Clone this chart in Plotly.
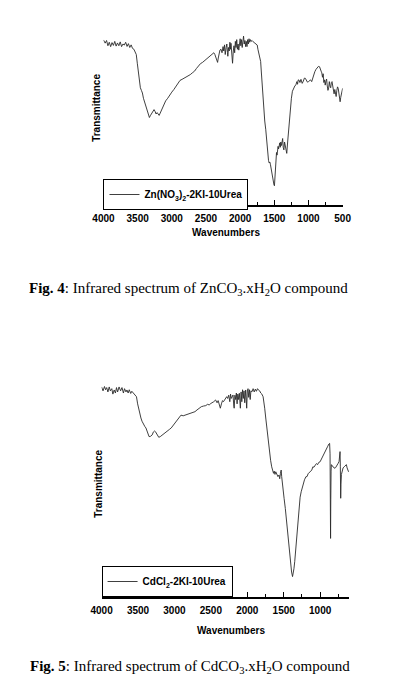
import plotly.graph_objects as go

# ---------------- data ----------------
zn_name = "Zn(NO<sub>3</sub>)<sub>2</sub>-2KI-10Urea"
cd_name = "CdCl<sub>2</sub>-2KI-10Urea"

zn_wn = [4000, 3975, 3955, 3935, 3915, 3895, 3875, 3855, 3835, 3815, 3795, 3775, 3755, 3735, 3715, 3695,
         3675, 3655, 3635, 3615, 3595, 3575, 3555, 3535, 3520, 3505, 3490, 3475, 3460, 3445, 3430, 3415,
         3400, 3385, 3370, 3355, 3340, 3328, 3315, 3300, 3290, 3275, 3260, 3245, 3230, 3215, 3200, 3185,
         3170, 3150, 3130, 3110, 3090, 3060, 3030, 3000, 2970, 2940, 2910, 2880, 2850, 2820, 2790, 2760,
         2730, 2700, 2667, 2640, 2610, 2580, 2550, 2520, 2490, 2460, 2430, 2400, 2385, 2370, 2355, 2340,
         2330, 2320, 2310, 2296, 2280, 2265, 2250, 2240, 2228, 2218, 2205, 2195, 2185, 2180, 2170, 2160,
         2150, 2140, 2134, 2125, 2115, 2111, 2100, 2090, 2080, 2070, 2060, 2050, 2040, 2030, 2020, 2010,
         2000, 1990, 1980, 1970, 1960, 1950, 1940, 1930, 1920, 1910, 1900, 1890, 1880, 1870, 1860, 1850,
         1840, 1825, 1810, 1790, 1770, 1750, 1740, 1725, 1710, 1700, 1690, 1680, 1671, 1655, 1640, 1625,
         1610, 1600, 1593, 1585, 1575, 1565, 1556, 1545, 1535, 1525, 1515, 1505, 1498, 1490, 1482, 1475,
         1468, 1460, 1452, 1445, 1438, 1430, 1420, 1412, 1405, 1395, 1385, 1378, 1370, 1360, 1350, 1340,
         1330, 1318, 1305, 1290, 1278, 1265, 1250, 1235, 1220, 1200, 1185, 1170, 1160, 1150, 1139, 1125,
         1110, 1092, 1075, 1060, 1046, 1030, 1015, 1000, 985, 970, 953, 935, 920, 907, 890, 870,
         855, 838, 825, 815, 805, 795, 785, 775, 765, 755, 745, 735, 725, 715, 705, 695,
         685, 675, 665, 655, 645, 635, 625, 615, 607, 595, 585, 575, 565, 555, 545, 537,
         528, 520, 510, 500]
zn_t = [94.3, 92.5, 94.0, 91.0, 93.0, 90.5, 92.8, 91.2, 93.5, 90.8, 92.6, 91.0, 93.2, 90.5, 92.0, 91.4,
        93.0, 90.6, 92.2, 90.0, 91.5, 89.5, 89.0, 87.5, 86.0, 81.0, 75.0, 70.0, 67.0, 65.5, 64.0, 61.0,
        59.0, 57.0, 55.0, 53.5, 51.5, 50.0, 51.0, 52.0, 52.8, 54.0, 54.5, 53.5, 52.0, 52.8, 51.5, 51.2,
        52.5, 54.5, 55.5, 58.0, 59.5, 61.0, 63.0, 64.5, 66.0, 68.0, 70.0, 71.2, 71.8, 72.5, 73.0, 73.5,
        74.5, 75.5, 76.5, 78.0, 79.5, 80.8, 81.5, 82.5, 83.5, 84.5, 85.0, 86.0, 87.0, 86.0, 84.0, 82.5,
        81.5, 84.0, 86.5, 88.5, 89.0, 87.0, 90.5, 88.0, 91.5, 86.0, 90.0, 92.0, 87.0, 85.0, 90.0, 88.0,
        93.0, 89.0, 92.4, 86.0, 82.0, 81.0, 88.0, 91.0, 87.0, 93.5, 90.0, 94.5, 89.0, 92.0, 88.5, 93.0,
        95.0, 91.0, 94.5, 90.0, 96.0, 96.5, 92.0, 94.0, 90.5, 93.5, 90.5, 94.5, 92.0, 95.0, 93.0, 94.5,
        93.5, 94.0, 93.3, 92.5, 92.0, 91.4, 89.0, 86.0, 84.0, 82.0, 76.0, 70.0, 62.0, 54.0, 48.0, 43.0,
        35.0, 30.0, 27.0, 25.5, 24.0, 24.5, 23.0, 20.0, 18.0, 16.0, 14.0, 11.5, 11.0, 17.0, 23.0, 27.5,
        30.0, 28.5, 31.0, 33.5, 32.0, 34.5, 35.5, 33.0, 36.0, 34.0, 37.5, 38.0, 33.0, 31.5, 36.0, 33.0,
        31.0, 29.5, 36.0, 44.0, 48.5, 55.0, 61.0, 65.0, 66.5, 68.0, 68.6, 70.5, 69.0, 71.5, 71.4, 70.0,
        71.8, 69.5, 70.8, 72.5, 72.4, 71.5, 70.2, 70.5, 71.0, 71.5, 70.5, 73.0, 75.0, 76.2, 77.5, 78.5,
        79.2, 79.0, 78.0, 76.5, 75.5, 73.0, 75.0, 70.0, 71.5, 68.5, 70.8, 72.0, 68.0, 65.5, 66.8, 70.5,
        68.0, 67.0, 70.0, 70.5, 68.0, 65.0, 63.5, 66.0, 63.8, 62.0, 65.5, 67.5, 66.7, 64.0, 59.5, 59.0,
        61.5, 62.9, 65.0, 66.7]

cd_wn = [4000, 3980, 3960, 3945, 3930, 3913, 3895, 3880, 3860, 3845, 3827, 3810, 3795, 3780, 3760, 3739,
         3720, 3700, 3685, 3665, 3652, 3635, 3620, 3600, 3585, 3566, 3545, 3521, 3505, 3490, 3478, 3460,
         3445, 3435, 3420, 3405, 3391, 3375, 3360, 3348, 3330, 3315, 3305, 3290, 3275, 3261, 3245, 3230,
         3215, 3195, 3175, 3150, 3130, 3100, 3070, 3044, 3020, 2990, 2960, 2935, 2910, 2880, 2850, 2826,
         2800, 2770, 2745, 2718, 2690, 2660, 2631, 2600, 2570, 2545, 2523, 2500, 2480, 2460, 2435, 2415,
         2400, 2385, 2370, 2355, 2340, 2327, 2310, 2295, 2283, 2270, 2255, 2240, 2230, 2220, 2210, 2196,
         2185, 2180, 2170, 2160, 2150, 2140, 2130, 2120, 2109, 2100, 2095, 2085, 2075, 2065, 2055, 2045,
         2035, 2022, 2015, 2008, 2000, 1990, 1980, 1970, 1960, 1950, 1935, 1920, 1905, 1890, 1875, 1860,
         1848, 1830, 1815, 1800, 1783, 1770, 1761, 1745, 1727, 1710, 1696, 1680, 1665, 1652, 1640, 1630,
         1620, 1609, 1595, 1580, 1565, 1555, 1545, 1535, 1528, 1522, 1510, 1495, 1478, 1460, 1445, 1435,
         1420, 1405, 1392, 1379, 1370, 1360, 1349, 1335, 1320, 1305, 1290, 1275, 1260, 1249, 1230, 1215,
         1196, 1180, 1165, 1150, 1131, 1115, 1100, 1085, 1066, 1050, 1035, 1020, 1001, 985, 965, 950,
         936, 915, 895, 880, 870, 864, 860, 857, 854, 850, 846, 840, 825, 810, 796, 785,
         770, 760, 753, 740, 732, 727, 723, 718, 714, 708, 697, 685, 670, 653, 640, 630,
         620, 610]
cd_t = [96.8, 95.0, 97.0, 95.5, 96.5, 94.5, 96.8, 95.0, 96.0, 93.5, 95.4, 94.0, 96.5, 94.5, 96.8, 95.0,
        96.5, 94.0, 96.0, 94.5, 95.4, 94.0, 95.5, 93.8, 94.8, 94.0, 93.0, 92.3, 89.0, 86.5, 85.4, 82.5,
        81.0, 80.2, 79.5, 78.5, 77.9, 76.0, 74.5, 73.9, 74.0, 74.5, 74.7, 76.0, 76.5, 76.2, 75.0, 74.2,
        73.6, 73.9, 74.5, 75.0, 75.6, 76.5, 77.2, 77.9, 79.0, 80.5, 82.0, 83.1, 83.8, 83.5, 83.9, 83.9,
        84.5, 84.8, 85.0, 85.4, 86.2, 87.0, 87.7, 88.0, 88.2, 88.8, 88.5, 89.2, 89.5, 90.0, 90.8, 89.5,
        90.5, 88.5, 87.0, 89.0, 90.5, 90.0, 91.0, 92.0, 92.3, 91.5, 93.0, 90.0, 93.5, 91.5, 92.5, 93.1,
        88.0, 87.0, 93.0, 91.0, 94.0, 89.0, 93.5, 91.0, 93.9, 88.5, 87.0, 94.5, 90.0, 95.5, 91.5, 95.0,
        89.5, 95.4, 88.0, 87.0, 94.5, 96.0, 92.0, 95.5, 91.0, 95.0, 94.6, 96.0, 94.5, 95.8, 94.8, 96.0,
        95.4, 95.0, 94.0, 93.5, 92.3, 90.0, 87.0, 82.0, 76.2, 71.0, 67.0, 63.0, 60.0, 58.5, 57.0, 58.0,
        56.5, 57.7, 56.8, 55.5, 56.2, 54.5, 57.0, 58.5, 55.5, 53.1, 49.0, 45.5, 40.8, 34.0, 29.0, 25.5,
        20.0, 14.7, 11.5, 9.4, 10.5, 13.0, 16.3, 22.0, 29.0, 36.3, 42.0, 46.0, 48.5, 50.1, 52.5, 54.0,
        55.4, 55.5, 56.8, 57.2, 57.7, 58.5, 60.0, 59.8, 60.8, 61.5, 61.0, 62.0, 62.3, 63.5, 65.0, 66.0,
        67.0, 68.5, 69.5, 70.5, 70.8, 66.0, 45.0, 27.0, 45.0, 58.0, 61.0, 60.8, 60.0, 59.5, 59.3, 59.8,
        60.5, 61.0, 61.6, 62.5, 65.5, 67.0, 60.0, 45.5, 52.0, 56.5, 58.5, 59.5, 60.0, 60.8, 61.0, 59.5,
        58.5, 57.7]

assert len(zn_wn) == len(zn_t), (len(zn_wn), len(zn_t))
assert len(cd_wn) == len(cd_t), (len(cd_wn), len(cd_t))

x_ticks = [4000, 3500, 3000, 2500, 2000, 1500, 1000, 500]
captions = [
    "<b>Fig. 4</b>: Infrared spectrum of ZnCO<sub>3</sub>.xH<sub>2</sub>O compound",
    "<b>Fig. 5</b>: Infrared spectrum of CdCO<sub>3</sub>.xH<sub>2</sub>O compound",
]

# ---------------- layout helpers ----------------
W, H = 393, 684
OFF = 8  # the page body adds an 8px margin; compensate so screen positions match


def px(x):
    return (x - OFF) / W


def py(y):
    return 1 - (y - OFF) / H


SANS = "Liberation Sans, Arial, sans-serif"
SERIF = "Liberation Serif, Times New Roman, serif"
LINE = "#2a2a2a"

fig = go.Figure()
fig.add_trace(go.Scatter(x=zn_wn, y=zn_t, mode="lines", name=zn_name,
                         line=dict(color=LINE, width=0.9), xaxis="x", yaxis="y", legend="legend"))
fig.add_trace(go.Scatter(x=cd_wn, y=cd_t, mode="lines", name=cd_name,
                         line=dict(color=LINE, width=0.9), xaxis="x2", yaxis="y2", legend="legend2"))

xcommon = dict(
    showline=True, linecolor="black", linewidth=1.5, mirror=False,
    ticks="inside", ticklen=5, tickwidth=1.2, tickcolor="black",
    tickvals=x_ticks, showgrid=False, zeroline=False,
    tickfont=dict(family=SANS, size=10, color="black", weight="bold"),
    minor=dict(ticks="inside", ticklen=3, tickwidth=1, tickcolor="black", dtick=250, showgrid=False),
    ticklabelstandoff=3,
)
ycommon = dict(visible=False, range=[0, 100], showgrid=False, zeroline=False)

fig.update_layout(
    width=W, height=H,
    margin=dict(l=0, r=0, t=0, b=0),
    paper_bgcolor="white", plot_bgcolor="white",
    showlegend=True,
    xaxis=dict(xcommon, range=[4000, 500], domain=[px(97), px(349)], anchor="y"),
    yaxis=dict(ycommon, domain=[py(205), py(30)], anchor="x"),
    xaxis2=dict(xcommon, range=[4000, 600], domain=[px(95), px(356)], anchor="y2"),
    yaxis2=dict(ycommon, domain=[py(597), py(380)], anchor="x2"),
    legend=dict(x=px(97), y=py(179), xanchor="left", yanchor="top",
                bordercolor="black", borderwidth=1, bgcolor="white",
                font=dict(family=SANS, size=10, color="black", weight="bold"),
                itemwidth=30),
    legend2=dict(x=px(95), y=py(566), xanchor="left", yanchor="top",
                 bordercolor="black", borderwidth=1, bgcolor="white",
                 font=dict(family=SANS, size=10, color="black", weight="bold"),
                 itemwidth=30),
)

ann_font = dict(family=SANS, size=10, color="black", weight="bold")
annotations = [
    dict(text="Transmittance", x=px(90), y=py(108), textangle=-90, font=ann_font),
    dict(text="Wavenumbers", x=px(226), y=py(232), font=ann_font),
    dict(text="Transmittance", x=px(91), y=py(484), textangle=-90, font=ann_font),
    dict(text="Wavenumbers", x=px(231), y=py(630), font=ann_font),
    dict(text=captions[0], x=px(187), y=py(289), font=dict(family=SERIF, size=15, color="black")),
    dict(text=captions[1], x=px(188), y=py(667), font=dict(family=SERIF, size=15, color="black")),
]
for a in annotations:
    a.update(xref="paper", yref="paper", showarrow=False, xanchor="center", yanchor="middle")
fig.update_layout(annotations=annotations)

fig.write_html("out.html")
